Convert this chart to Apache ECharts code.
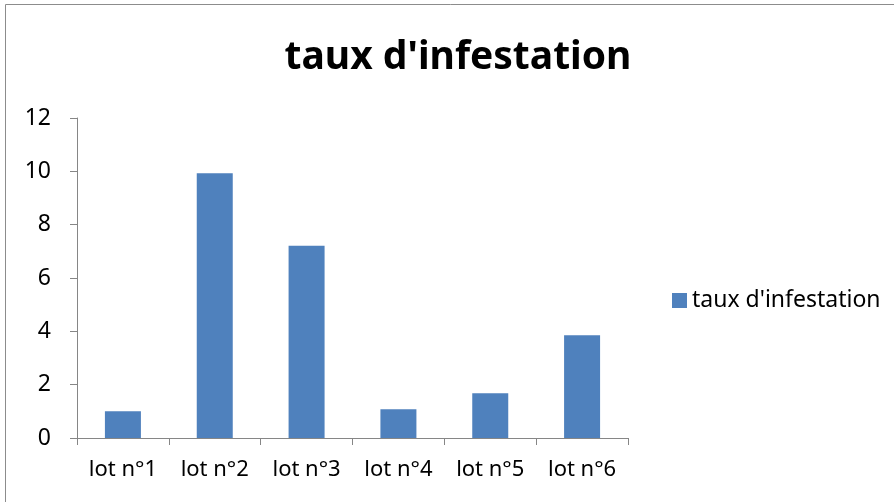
<!DOCTYPE html>
<html>
<head>
<meta charset="utf-8">
<script src="https://cdn.jsdelivr.net/npm/echarts@6/dist/echarts.min.js"></script>
<style>
  html, body { margin: 0; padding: 0; background: #fff; }
  #chart { width: 894px; height: 502px; }
</style>
</head>
<body>
<div id="chart"></div>
<script>
  var lots = ['lot n°1', 'lot n°2', 'lot n°3', 'lot n°4', 'lot n°5', 'lot n°6'];
  var taux = [1.0, 9.93, 7.21, 1.08, 1.68, 3.85];
  var serieName = "taux d'infestation";

  var police = 'Noto Sans';
  var myChart = echarts.init(document.getElementById('chart'));
  myChart.setOption({
    animation: false,
    textStyle: { fontFamily: police },
    graphic: [{
      type: 'rect',
      shape: { x: 5.5, y: 4.5, width: 900, height: 520 },
      style: { fill: 'none', stroke: '#8c8c8c', lineWidth: 1 }
    }],
    title: {
      text: serieName,
      left: 453,
      textAlign: 'center',
      top: 33,
      textStyle: { fontFamily: police, fontSize: 39, fontWeight: 'bold', color: '#000' }
    },
    legend: {
      data: [serieName],
      left: 667,
      top: 284,
      icon: 'rect',
      itemWidth: 15,
      itemHeight: 15,
      itemGap: 6,
      textStyle: { fontFamily: police, fontSize: 23, color: '#000' }
    },
    grid: { left: 77, right: 266, top: 118, bottom: 64, containLabel: false },
    xAxis: {
      type: 'category',
      data: lots,
      axisLine: { lineStyle: { color: '#868686', width: 1 } },
      axisTick: { show: true, length: 7, interval: 0, lineStyle: { color: '#868686' } },
      axisLabel: { fontFamily: police, fontSize: 22, color: '#000', margin: 21, interval: 0, hideOverlap: false }
    },
    yAxis: {
      type: 'value',
      min: 0,
      max: 12,
      interval: 2,
      splitLine: { show: false },
      axisLine: { show: true, lineStyle: { color: '#868686', width: 1 } },
      axisTick: { show: true, length: 7, lineStyle: { color: '#868686' } },
      axisLabel: { fontFamily: police, fontSize: 23, color: '#000', margin: 26 }
    },
    series: [{
      name: serieName,
      type: 'bar',
      data: taux,
      barWidth: 36,
      itemStyle: { color: '#4f81bd' }
    }]
  });
</script>
</body>
</html>
